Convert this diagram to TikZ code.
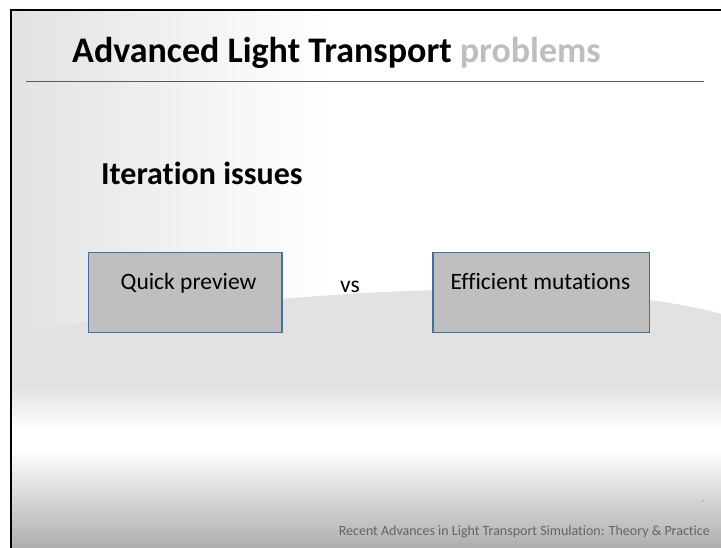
\documentclass[tikz,border=0pt]{standalone}
\usepackage{fontspec}
\setmainfont{Carlito}[Ligatures=NoCommon]
\definecolor{bgL}{RGB}{226,226,226}
\definecolor{band}{RGB}{226,226,226}
\definecolor{botgray}{RGB}{174,174,174}
\definecolor{probgray}{RGB}{190,190,190}
\definecolor{rulecol}{RGB}{90,90,90}
\definecolor{boxfill}{RGB}{191,191,191}
\definecolor{boxedge}{RGB}{65,113,156}
\definecolor{footcol}{RGB}{100,100,100}
\tikzset{
  box/.style={draw=boxedge, fill=boxfill, line width=1.5pt, inner sep=0pt, anchor=north west},
  boxtext/.style={anchor=base west, inner sep=0pt, font=\fontsize{23.5}{28}\selectfont},
  titletext/.style={anchor=base west, inner sep=0pt, font=\fontsize{36}{40}\selectfont\bfseries},
  subtitle/.style={anchor=base west, inner sep=0pt, font=\fontsize{32}{36}\selectfont\bfseries},
  footer/.style={anchor=base east, inner sep=0pt, text=footcol, font=\fontsize{14}{16}\selectfont}
}
\begin{document}
\begin{tikzpicture}[x=1pt,y=-1pt]
\useasboundingbox (0,0) rectangle (721,548);
\fill[white] (0,0) rectangle (721,548);
% background of slide
\shade[left color=bgL, right color=white] (11,10) rectangle (330,548);
\fill[band] (11,335) .. controls (200,300) and (400,287) .. (510,290)
  .. controls (610,293) and (680,302) .. (721,314) -- (721,386) -- (11,386) -- cycle;
\shade[top color=band, bottom color=white] (11,385.5) rectangle (721,430);
\fill[white] (11,429.5) rectangle (721,450);
\shade[top color=white, bottom color=botgray] (11,449.5) rectangle (721,548);
% slide border
\draw[black, line width=2.2pt] (11,548) -- (11,10) -- (721,10);
% title
\node[titletext] (title) at (72,62.5) {Advanced Light Transport \textcolor{probgray}{problems}};
\draw[rulecol, line width=1.5pt] (26,81.5) -- (704,81.5);
% subtitle
\node[subtitle] (iter) at (101,185) {Iteration issues};
% boxes
\node[box, minimum width=193.5pt, minimum height=80pt] (qp) at (87.5,252) {};
\node[box, minimum width=216.5pt, minimum height=80pt] (em) at (432,252) {};
\node[boxtext] (qpt) at (120.5,290) {Quick preview};
\node[boxtext, anchor=base] (emt) at (540.5,290) {Efficient mutations};
\node[boxtext] (vs) at (340,293) {vs};
% footer
\node[footer] (foot) at (710,535.5) {Recent Advances in Light Transport Simulation: Theory \& Practice};
\fill[footcol!60] (703,501) circle (0.8pt);
\end{tikzpicture}
\end{document}
